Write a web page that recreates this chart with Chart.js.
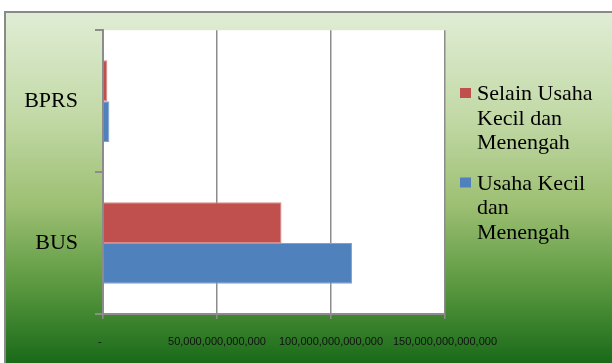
<!DOCTYPE html>
<html>
<head>
<meta charset="utf-8">
<script src="https://cdn.jsdelivr.net/npm/chart.js@4.4.0/dist/chart.umd.min.js"></script>
<style>
  html, body { margin: 0; padding: 0; background: #fff; }
  #wrap { width: 612px; height: 363px; }
</style>
</head>
<body>
<div id="wrap"><canvas id="chart" width="612" height="363"></canvas></div>
<script>
// categories (top to bottom as drawn)
var categories = ['BPRS', 'BUS'];
// series values
var selainUKM = [1.9e12, 78.3e12];
var usahaKM = [2.8e12, 109.2e12];
var seriesNames = [
  ['Selain Usaha', 'Kecil dan', 'Menengah'],
  ['Usaha Kecil', 'dan', 'Menengah']
];
// x axis ticks
var xTicks = [0, 50e12, 100e12, 150e12];

var gridGray = '#8c8c8c';

// background: white margin, green gradient frame
var bgPlugin = {
  id: 'bg',
  beforeDraw: function (chart) {
    var ctx = chart.ctx;
    ctx.save();
    ctx.fillStyle = '#fff';
    ctx.fillRect(0, 0, chart.width, chart.height);
    var g = ctx.createLinearGradient(0, 12, 0, chart.height);
    g.addColorStop(0, '#e0edd5');
    g.addColorStop(0.3, '#c2d9a6');
    g.addColorStop(0.55, '#9dbf73');
    g.addColorStop(0.78, '#5a983f');
    g.addColorStop(1, '#196a19');
    ctx.fillStyle = g;
    ctx.fillRect(5, 12, chart.width - 5, chart.height - 12);
    ctx.strokeStyle = '#8a8a8a';
    ctx.lineWidth = 2;
    ctx.beginPath();
    ctx.moveTo(5, chart.height);
    ctx.lineTo(5, 12);
    ctx.lineTo(chart.width, 12);
    ctx.stroke();
    // white plot area
    var a = chart.chartArea;
    ctx.fillStyle = '#fff';
    ctx.fillRect(a.left, a.top, a.right - a.left, a.bottom - a.top);
    ctx.restore();
  }
};

// legend with wrapped text
var legendPlugin = {
  id: 'wrapLegend',
  afterDraw: function (chart) {
    var ctx = chart.ctx;
    var a = chart.chartArea;
    var x = a.right + 15;
    var y = 100;
    ctx.save();
    ctx.font = '22px "Liberation Serif"';
    ctx.textBaseline = 'alphabetic';
    ctx.fillStyle = '#000';
    chart.data.datasets.forEach(function (ds, i) {
      ctx.fillStyle = ds.backgroundColor;
      ctx.fillRect(x, y - 12, 11, 10);
      ctx.fillStyle = '#000';
      seriesNames[i].forEach(function (line, j) {
        ctx.fillText(line, x + 17, y + j * 24.5);
      });
      y += seriesNames[i].length * 24.5 + 16;
    });
    ctx.restore();
  }
};

var ctx = document.getElementById('chart').getContext('2d');
var chart = new Chart(ctx, {
  type: 'bar',
  data: {
    labels: categories,
    datasets: [{
      label: seriesNames[0].join(' '),
      data: selainUKM,
      backgroundColor: '#c0504d',
      borderColor: '#d98a88',
      borderWidth: 1,
      categoryPercentage: 0.575,
      barPercentage: 1.0
    }, {
      label: seriesNames[1].join(' '),
      data: usahaKM,
      backgroundColor: '#4f81bd',
      borderColor: '#7fa3d0',
      borderWidth: 1,
      categoryPercentage: 0.575,
      barPercentage: 1.0
    }]
  },
  options: {
    indexAxis: 'y',
    responsive: false,
    animation: false,
    layout: { padding: { top: 29, right: 167, left: 0, bottom: 0 } },
    plugins: {
      legend: { display: false },
      tooltip: { enabled: false }
    },
    scales: {
      x: {
        min: 0,
        max: 150e12,
        afterBuildTicks: function (s) {
          s.ticks = xTicks.map(function (v) { return { value: v }; });
        },
        afterFit: function (s) { s.height = 49; },
        grid: {
          color: gridGray,
          lineWidth: 1.5,
          tickLength: 5,
          drawTicks: true
        },
        border: { color: gridGray, width: 2 },
        ticks: {
          padding: 16,
          maxRotation: 0,
          autoSkip: false,
          color: '#111',
          font: { family: '"Liberation Sans"', size: 11 },
          callback: function (v) {
            if (v === 0) return '-  ';
            return Number(v).toLocaleString('en-US');
          }
        }
      },
      y: {
        afterFit: function (s) { s.width = 103; },
        grid: {
          drawOnChartArea: false,
          color: gridGray,
          lineWidth: 2,
          tickLength: 8
        },
        border: { color: gridGray, width: 2 },
        ticks: {
          padding: 17,
          color: '#000',
          font: { family: '"Liberation Serif"', size: 22 }
        }
      }
    }
  },
  plugins: [bgPlugin, legendPlugin]
});
</script>
</body>
</html>
